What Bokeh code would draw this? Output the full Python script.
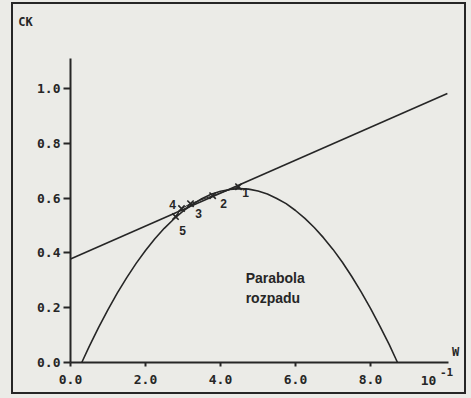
from bokeh.plotting import figure
from bokeh.models import Label, FixedTicker, ColumnDataSource
from bokeh.layouts import column
from bokeh.core.properties import value
from bokeh.embed import file_html
from bokeh.resources import INLINE

# --- data ---
parabola_x = [0.3, 0.5, 0.75, 1.0, 1.25, 1.5, 1.75, 2.0, 2.25, 2.5, 2.75, 3.0, 3.25, 3.5, 3.75, 4.0, 4.25, 4.5,
              4.75, 5.0, 5.25, 5.5, 5.75, 6.0, 6.25, 6.5, 6.75, 7.0, 7.25, 7.5, 7.75, 8.0, 8.25, 8.5, 8.72]
parabola_y = [0.0, 0.059, 0.128, 0.193, 0.254, 0.310, 0.362, 0.409, 0.452, 0.490, 0.523, 0.553, 0.577, 0.598,
              0.614, 0.625, 0.632, 0.635, 0.633, 0.626, 0.615, 0.599, 0.580, 0.555, 0.526, 0.493, 0.455,
              0.413, 0.366, 0.314, 0.258, 0.198, 0.133, 0.065, 0.0]

line_x = [0.0, 10.05]
line_y = [0.378, 0.982]

point_labels = ["1", "2", "3", "4", "5"]
point_x = [4.48, 3.79, 3.20, 2.96, 2.80]
point_y = [0.642, 0.609, 0.580, 0.562, 0.533]

x_ticks = [0, 2, 4, 6, 8]
x_tick_labels = ["0.0", "2.0", "4.0", "6.0", "8.0"]
y_ticks = [0.0, 0.2, 0.4, 0.6, 0.8, 1.0]
y_tick_labels = ["0.0", "0.2", "0.4", "0.6", "0.8", "1.0"]

axis_texts = ["CK", "W", "10", "-1"]
curve_text = ["Parabola", "rozpadu"]

# --- styles ---
BG = "#ebebe7"
INK = "#262626"
MONO = "DejaVu Sans Mono"
SANS = "Liberation Sans"

p = figure(width=451, height=388, x_range=(0, 10.08), y_range=(0, 1.11),
           output_backend="svg", toolbar_location=None,
           min_border_left=57, min_border_right=16, min_border_top=54, min_border_bottom=30)
p.background_fill_color = BG
p.border_fill_color = BG
p.outline_line_color = None
p.grid.visible = False

for ax in (p.xaxis[0], p.yaxis[0]):
    ax.axis_line_color = INK
    ax.axis_line_width = 2
    ax.major_tick_line_color = INK
    ax.major_tick_line_width = 2
    ax.major_tick_in = 0
    ax.minor_tick_line_color = None
    ax.major_label_text_font = MONO
    ax.major_label_text_font_style = "bold"
    ax.major_label_text_font_size = "13px"
    ax.major_label_text_color = INK

p.xaxis.ticker = FixedTicker(ticks=x_ticks)
p.xaxis.major_label_overrides = {t: l for t, l in zip(x_ticks, x_tick_labels)}
p.xaxis.major_tick_out = 4
p.xaxis.major_label_standoff = 8

p.yaxis.ticker = FixedTicker(ticks=y_ticks)
p.yaxis.major_label_overrides = {t: l for t, l in zip(y_ticks, y_tick_labels)}
p.yaxis.major_tick_out = 7
p.yaxis.major_label_standoff = 3

p.line(parabola_x, parabola_y, line_color=INK, line_width=1.6)
p.line(line_x, line_y, line_color=INK, line_width=1.6)
p.line(point_x, point_y, line_color=INK, line_width=1.0)

src = ColumnDataSource(dict(x=point_x, y=point_y, t=point_labels,
                            dx=[7, 11, 8, -9, 7], dy=[6, 8, 10, -4, 14]))
p.scatter("x", "y", source=src, marker="x", size=9, line_color=INK, line_width=1.6)
p.text("x", "y", text="t", source=src, x_offset="dx", y_offset="dy",
       text_font=value(SANS), text_font_style="bold", text_font_size="12px",
       text_align="center", text_baseline="middle", text_color=INK)

p.add_layout(Label(x=4.67, y=0.31, text=curve_text[0], text_font=SANS, text_font_style="bold",
                   text_font_size="14px", text_baseline="middle", text_color=INK))
p.add_layout(Label(x=4.67, y=0.237, text=curve_text[1], text_font=SANS, text_font_style="bold",
                   text_font_size="14px", text_baseline="middle", text_color=INK))

# transparent overlay page-sized canvas for the texts that sit outside the plot frame
q = figure(width=471, height=398, x_range=(0, 471), y_range=(398, 0),
           x_axis_type=None, y_axis_type=None, output_backend="svg", toolbar_location=None,
           min_border=0)
q.background_fill_alpha = 0
q.border_fill_alpha = 0
q.outline_line_color = None
q.grid.visible = False
osrc = ColumnDataSource(dict(t=axis_texts, x=[25, 455, 428, 446], y=[21, 351, 380, 371],
                             size=["12px", "12px", "13px", "11px"]))
q.text("x", "y", text="t", source=osrc, text_font=value(MONO), text_font_style="bold",
       text_font_size="size", text_align="center", text_baseline="middle", text_color=INK)
q.styles = {"position": "absolute", "left": "0px", "top": "0px", "pointer-events": "none"}

inner = column(p, styles={"border": "2px solid #262626", "background-color": BG})
outer = column(inner, q, styles={"background-color": BG, "padding-left": "11px", "padding-top": "2px",
                                 "width": "471px", "height": "398px", "box-sizing": "border-box",
                                 "position": "relative"})

open("out.html", "w").write(file_html(outer, INLINE))
